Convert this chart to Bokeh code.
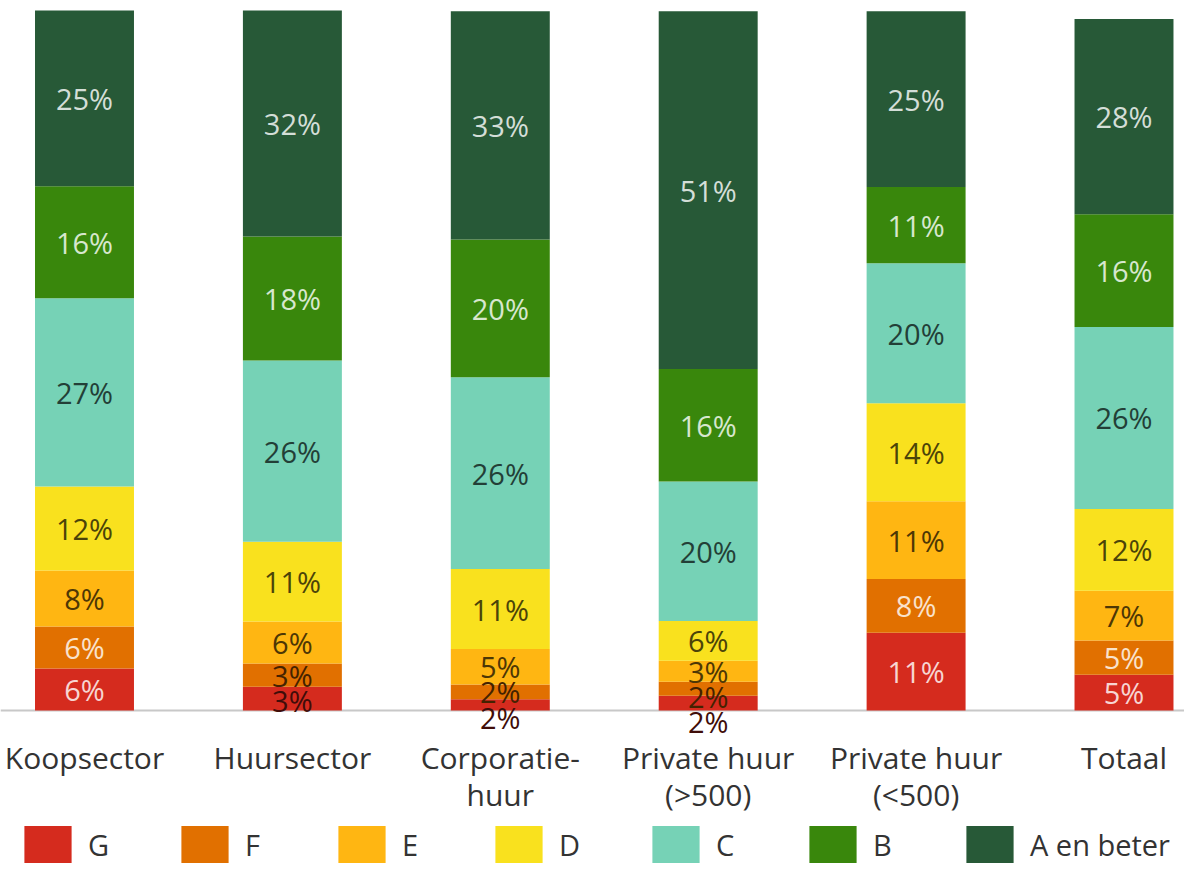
from bokeh.plotting import figure
from bokeh.models import (Range1d, ColumnDataSource, Legend, LegendItem, Span)
from bokeh.embed import file_html
from bokeh.resources import INLINE
from bokeh.core.properties import value

# ---------------- data ----------------
categories = ["Koopsector", "Huursector", "Corporatie-\nhuur",
              "Private huur\n(>500)", "Private huur\n(<500)", "Totaal"]
classes = ["G", "F", "E", "D", "C", "B", "A en beter"]
colors = ["#d52b1e", "#e17000", "#ffb612", "#f9e11e", "#76d2b6", "#39870c", "#275937"]

# shares (%) per energy label class, one value per category (bottom to top)
share_g = [6.0, 3.4, 1.6, 2.1, 11.1, 5.1]
share_f = [6.0, 3.3, 2.1, 2.0, 7.7, 4.9]
share_e = [8.0, 6.0, 5.1, 3.0, 11.1, 7.1]
share_d = [12.0, 11.4, 11.4, 5.7, 14.0, 11.7]
share_c = [26.9, 25.9, 27.4, 19.9, 20.0, 26.0]
share_b = [16.0, 17.7, 19.7, 16.1, 10.9, 16.1]
share_a = [25.1, 32.3, 32.6, 51.1, 25.1, 27.9]

# printed labels (%)
label_g = [6, 3, 2, 2, 11, 5]
label_f = [6, 3, 2, 2, 8, 5]
label_e = [8, 6, 5, 3, 11, 7]
label_d = [12, 11, 11, 6, 14, 12]
label_c = [27, 26, 26, 20, 20, 26]
label_b = [16, 18, 20, 16, 11, 16]
label_a = [25, 32, 33, 51, 25, 28]

shares = [share_g, share_f, share_e, share_d, share_c, share_b, share_a]
labels = [label_g, label_f, label_e, label_d, label_c, label_b, label_a]
light_text = [True, True, False, False, False, True, True]

FONT = "Open Sans"
TEXT = "#333333"


def mix(hexc, t, target):
    hexc = hexc.lstrip("#")
    rgb = [int(hexc[i:i + 2], 16) for i in (0, 2, 4)]
    out = [round(c * (1 - t) + target * t) for c in rgb]
    return "#%02x%02x%02x" % tuple(out)


# ---------------- figure ----------------
x = list(range(len(categories)))
src = {"x": x}
for cls, vals in zip(classes, shares):
    src[cls] = vals
source = ColumnDataSource(src)

p = figure(frame_width=1184, frame_height=867,
           x_range=Range1d(-0.404, 5.291),
           y_range=Range1d(-157 / 7, 710 / 7),
           output_backend="svg", toolbar_location=None,
           x_axis_location=None, y_axis_location=None, min_border=0,
           min_border_left=0, min_border_right=0,
           min_border_top=0, min_border_bottom=0)
p.outline_line_color = None
p.grid.visible = False
p.background_fill_color = "white"

base = Span(location=0, dimension="width", line_color="#c8c8c8",
            line_width=2, level="underlay")
p.add_layout(base)

renderers = p.vbar_stack(classes, x="x", width=0.476, color=colors,
                         line_color=None, source=source)

# segment labels
lx, ly, lt, lc = [], [], [], []
for j in x:
    bottom = 0.0
    centers, texts, cols = [], [], []
    for k in range(len(classes)):
        h = shares[k][j]
        centers.append(bottom + h / 2)
        bottom += h
        texts.append(f"{labels[k][j]}%")
        if light_text[k] and h >= 4:
            cols.append(mix(colors[k], 0.8, 255))
        else:
            cols.append(mix(colors[k], 0.7, 0))
    # push overlapping labels downward, from the top segment down
    ys = [0.0] * len(centers)
    prev = None
    for k in reversed(range(len(centers))):
        y = centers[k]
        if prev is not None:
            y = min(y, prev - 3.6)
        ys[k] = y
        prev = y
    for k in range(len(centers)):
        lx.append(j)
        ly.append(ys[k])
        lt.append(texts[k])
        lc.append(cols[k])

lsrc = ColumnDataSource(dict(x=lx, y=ly, t=lt, c=lc))
p.text(x="x", y="y", text="t", text_color="c", source=lsrc,
       text_align="center", text_baseline="middle",
       text_font=value(FONT), text_font_size="29px")

# category names under the baseline (one row per text line)
line1 = [c.split("\n")[0] for c in categories]
line2 = [c.split("\n")[1] if "\n" in c else "" for c in categories]
csrc = ColumnDataSource(dict(x=x, y=[0] * len(x), l1=line1, l2=line2))
p.text(x="x", y="y", text="l1", source=csrc, y_offset=47,
       text_align="center", text_baseline="middle", text_color=TEXT,
       text_font=value(FONT), text_font_size="30px")
p.text(x="x", y="y", text="l2", source=csrc, y_offset=84,
       text_align="center", text_baseline="middle", text_color=TEXT,
       text_font=value(FONT), text_font_size="30px")

legend = Legend(items=[LegendItem(label=cls, renderers=[r])
                       for cls, r in zip(classes, renderers)],
                orientation="horizontal", location=(18, 0),
                glyph_width=59, glyph_height=46, label_standoff=11,
                label_width=77, spacing=10, padding=0, margin=0,
                border_line_color=None, background_fill_alpha=0,
                label_text_font=FONT, label_text_font_size="29px",
                label_text_color=TEXT)
p.add_layout(legend)

open("out.html", "w").write(file_html(p, INLINE))
